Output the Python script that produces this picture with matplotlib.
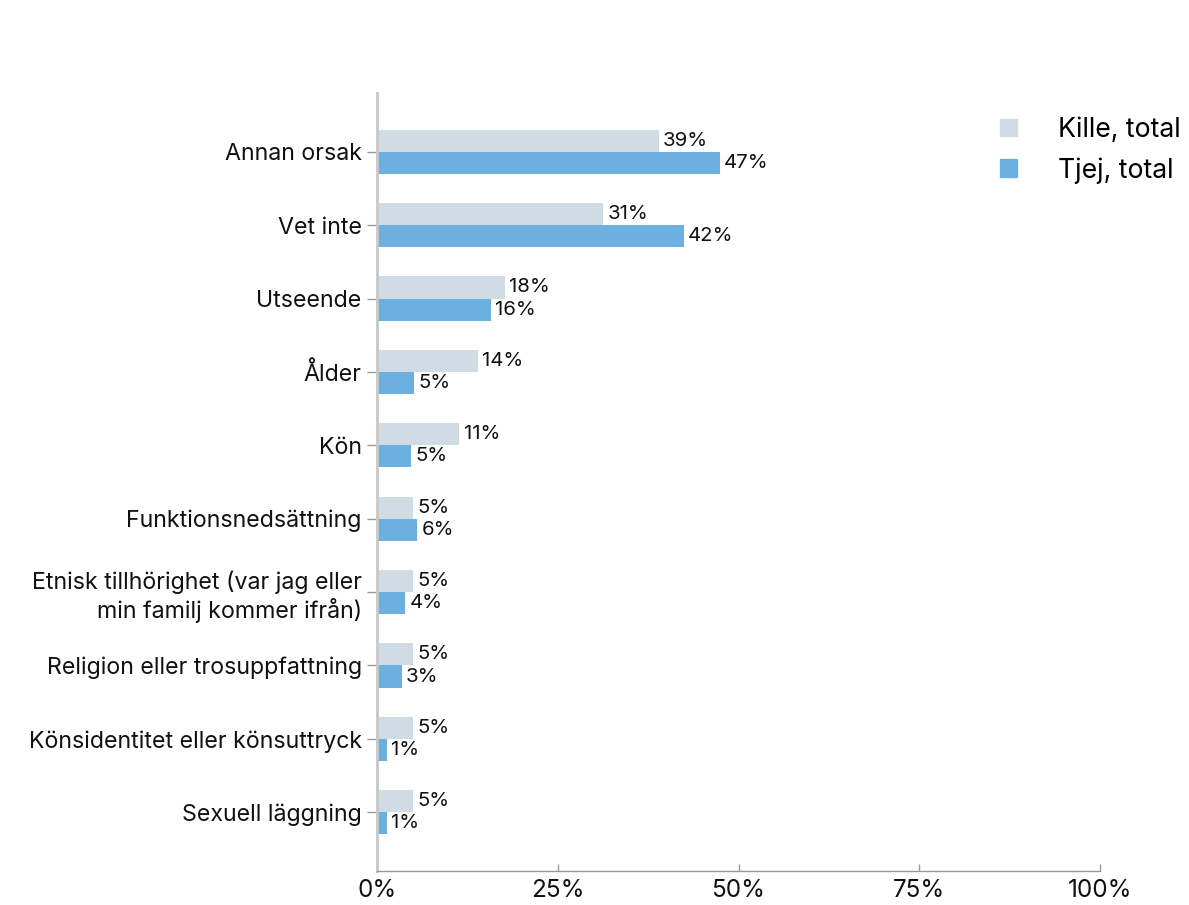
import matplotlib.pyplot as plt
from matplotlib.patches import Patch
import numpy as np

categories = [
    "Annan orsak",
    "Vet inte",
    "Utseende",
    "Ålder",
    "Kön",
    "Funktionsnedsättning",
    "Etnisk tillhörighet (var jag eller\nmin familj kommer ifrån)",
    "Religion eller trosuppfattning",
    "Könsidentitet eller könsuttryck",
    "Sexuell läggning",
]
kille = [39.0, 31.3, 17.7, 14.0, 11.4, 5.0, 5.0, 5.0, 5.0, 5.0]
tjej = [47.4, 42.4, 15.8, 5.1, 4.7, 5.6, 3.9, 3.4, 1.4, 1.4]
series_names = ["Kille, total", "Tjej, total"]
x_ticks = [0, 25, 50, 75, 100]

plt.rcParams['font.family'] = ['Inter', 'DejaVu Sans']

KILLE_C = '#d0dce3'
TJEJ_C = '#6cb0e0'

fig = plt.figure(figsize=(11.89, 9.05), dpi=100)
ax = fig.add_axes([377 / 1189, 1 - 871 / 905, 723 / 1189, 778 / 905])

y = np.arange(len(categories))
h = 0.30
b1 = ax.barh(y - h / 2, kille, height=h, color=KILLE_C)
b2 = ax.barh(y + h / 2, tjej, height=h, color=TJEJ_C)

# value labels just right of each bar
for bars, vals in ((b1, kille), (b2, tjej)):
    for rect, v in zip(bars, vals):
        ax.annotate(f"{round(v)}%", (rect.get_width(), rect.get_y() + rect.get_height() / 2),
                    xytext=(3, 0), textcoords='offset points', va='center', ha='left',
                    fontsize=14.7, color='#111111')

ax.set_xlim(0, 100)
ax.set_ylim(len(categories) - 0.2, -0.8)
ax.set_yticks(y)
ax.set_yticklabels(categories, fontsize=16.7, color='#111111', linespacing=1.2)
ax.set_xticks(x_ticks)
ax.set_xticklabels([f"{t}%" for t in x_ticks], fontsize=17.5, color='#111111')

for s in ('top', 'right'):
    ax.spines[s].set_visible(False)
ax.spines['left'].set_color('#c8c8c8')
ax.spines['left'].set_linewidth(2)
ax.spines['bottom'].set_color('#999999')
ax.spines['bottom'].set_linewidth(1)
ax.tick_params(axis='y', length=7, color='#999999', width=1, pad=4)
ax.tick_params(axis='x', direction='in', length=5, color='#999999', width=1, pad=6)

handles = [Patch(color=KILLE_C), Patch(color=TJEJ_C)]
fig.legend(handles, series_names, loc='upper left', bbox_to_anchor=(1000 / 1189, 1 - 117 / 905),
           frameon=False, fontsize=19.2, handlelength=0.64, handleheight=0.64,
           handletextpad=1.55, labelspacing=0.53, borderaxespad=0, borderpad=0)

fig.savefig('out.png', dpi=100)
